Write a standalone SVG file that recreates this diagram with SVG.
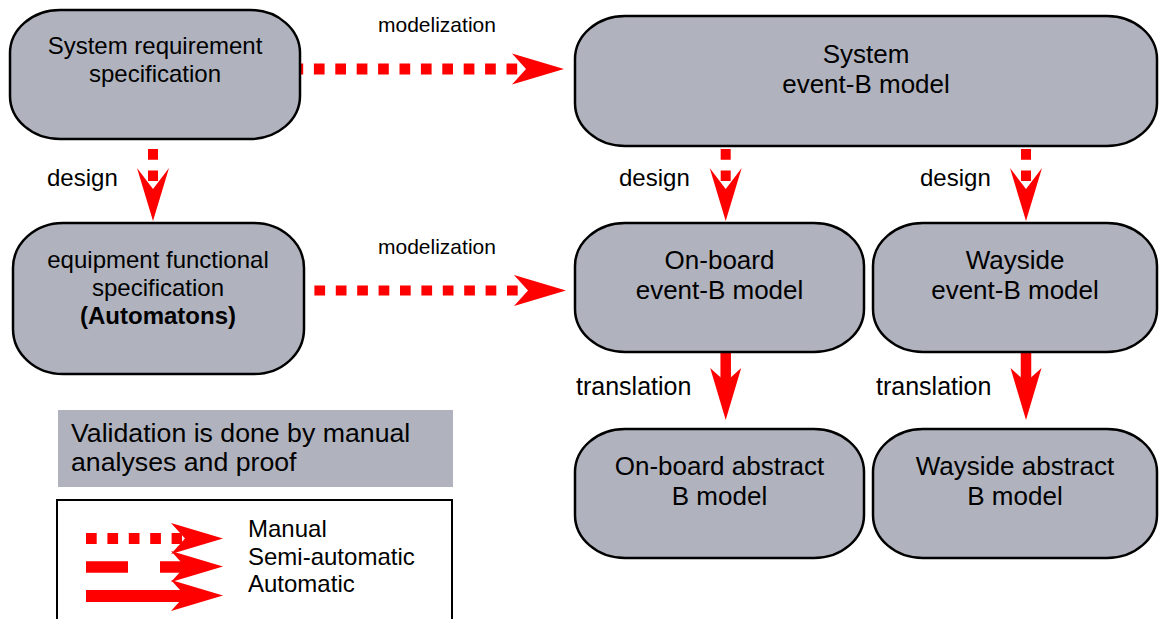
<svg xmlns="http://www.w3.org/2000/svg" xmlns:xlink="http://www.w3.org/1999/xlink" width="1159" height="619" viewBox="0 0 1159 619">
<style>
.node{fill:#b0b3be;stroke:#000;stroke-width:2.5}
.t{font-family:"Liberation Sans",Arial,Helvetica,sans-serif;fill:#000}
.l24{font-size:24px}
.l25{font-size:25px}
.l26{font-size:26px}
.l21{font-size:21px}
.mid{text-anchor:middle}
.dot{stroke:#f00;stroke-width:11;stroke-dasharray:10.7 10.7;fill:none}
.solid{stroke:#f00;stroke-width:11;fill:none}
.ah{fill:#f00}
</style>
<defs>
<path id="ahH" d="M0,0 L-52,-15.5 L-38,0 L-52,15.5 Z"/>
<path id="ahD" d="M0,0 L-16,-53 L0,-32 L16,-53 Z"/>
</defs>
<rect width="1159" height="619" fill="#fff"/>
<g id="connectors">
<line class="dot" x1="292.5" y1="69" x2="520" y2="69"/>
<use class="ah" href="#ahH" transform="translate(564,69)"/>
<line class="dot" x1="293" y1="290.5" x2="522" y2="290.5" style="stroke-width:10"/>
<use class="ah" href="#ahH" transform="translate(566,290.5)"/>
<line class="dot" x1="153" y1="149" x2="153" y2="181" style="stroke-width:10"/>
<use class="ah" href="#ahD" transform="translate(153,221)"/>
<line class="dot" x1="725.7" y1="149" x2="725.7" y2="181" style="stroke-width:10"/>
<use class="ah" href="#ahD" transform="translate(725.7,221)"/>
<line class="dot" x1="1026" y1="149" x2="1026" y2="181" style="stroke-width:10"/>
<use class="ah" href="#ahD" transform="translate(1026,221)"/>
<line class="solid" x1="725.7" y1="353" x2="725.7" y2="390" style="stroke-width:10.5"/>
<use class="ah" href="#ahH" transform="translate(725.7,420) rotate(90)"/>
<line class="solid" x1="1026" y1="353" x2="1026" y2="390" style="stroke-width:10.5"/>
<use class="ah" href="#ahH" transform="translate(1026,420) rotate(90)"/>
<text class="t l21" x="378" y="32">modelization</text>
<text class="t l21" x="378" y="254">modelization</text>
<text class="t l24" x="47" y="186">design</text>
<text class="t l24" x="619" y="186">design</text>
<text class="t l24" x="920" y="186">design</text>
<text class="t l25" x="576" y="395">translation</text>
<text class="t l25" x="876" y="395">translation</text>
</g>
<g id="n-sysreq">
<rect class="node" x="10" y="10" width="290" height="129" rx="50" ry="43"/>
<text class="t l24 mid" x="155" y="54">System requirement</text>
<text class="t l24 mid" x="155" y="82">specification</text>
</g>
<g id="n-equip">
<rect class="node" x="13" y="223" width="291" height="151" rx="50" ry="45"/>
<text class="t l24 mid" x="158" y="268">equipment functional</text>
<text class="t l24 mid" x="158" y="296">specification</text>
<text class="t l24 mid" x="158" y="324" font-weight="bold">(Automatons)</text>
</g>
<g id="n-system">
<rect class="node" x="575" y="16" width="582" height="130" rx="50" ry="43"/>
<text class="t l26 mid" x="866" y="63">System</text>
<text class="t l26 mid" x="866" y="93">event-B model</text>
</g>
<g id="n-onboard">
<rect class="node" x="575" y="223" width="289" height="129" rx="50" ry="43"/>
<text class="t l26 mid" x="719.5" y="269">On-board</text>
<text class="t l26 mid" x="719.5" y="299">event-B model</text>
</g>
<g id="n-wayside">
<rect class="node" x="873" y="223" width="284" height="129" rx="50" ry="43"/>
<text class="t l26 mid" x="1015" y="269">Wayside</text>
<text class="t l26 mid" x="1015" y="299">event-B model</text>
</g>
<g id="n-onboard-abs">
<rect class="node" x="575" y="429" width="289" height="129" rx="50" ry="43"/>
<text class="t l26 mid" x="719.5" y="475">On-board abstract</text>
<text class="t l26 mid" x="719.5" y="505">B model</text>
</g>
<g id="n-wayside-abs">
<rect class="node" x="873" y="429" width="284" height="129" rx="50" ry="43"/>
<text class="t l26 mid" x="1015" y="475">Wayside abstract</text>
<text class="t l26 mid" x="1015" y="505">B model</text>
</g>
<g id="n-validation">
<rect x="58" y="410" width="395" height="77" fill="#b0b3be"/>
<text class="t" style="font-size:26.7px" x="71" y="442">Validation is done by manual</text>
<text class="t" style="font-size:26.7px" x="71" y="471">analyses and proof</text>
</g>
<g id="legend">
<rect x="57" y="500" width="395" height="140" fill="#fff" stroke="#000" stroke-width="2"/>
<line class="dot" x1="86" y1="538.5" x2="182" y2="538.5"/>
<use class="ah" href="#ahH" transform="translate(223,538.5)"/>
<line class="solid" x1="86" y1="567" x2="128" y2="567" style="stroke-width:11.5"/>
<line class="solid" x1="160" y1="567" x2="185" y2="567" style="stroke-width:11.5"/>
<use class="ah" href="#ahH" transform="translate(223,566.5)"/>
<line class="solid" x1="86" y1="596" x2="185" y2="596" style="stroke-width:12"/>
<use class="ah" href="#ahH" transform="translate(223,595.5)"/>
<text class="t l24" x="248" y="537">Manual</text>
<text class="t l24" x="248" y="565">Semi-automatic</text>
<text class="t l24" x="248" y="592">Automatic</text>
</g>
</svg>
